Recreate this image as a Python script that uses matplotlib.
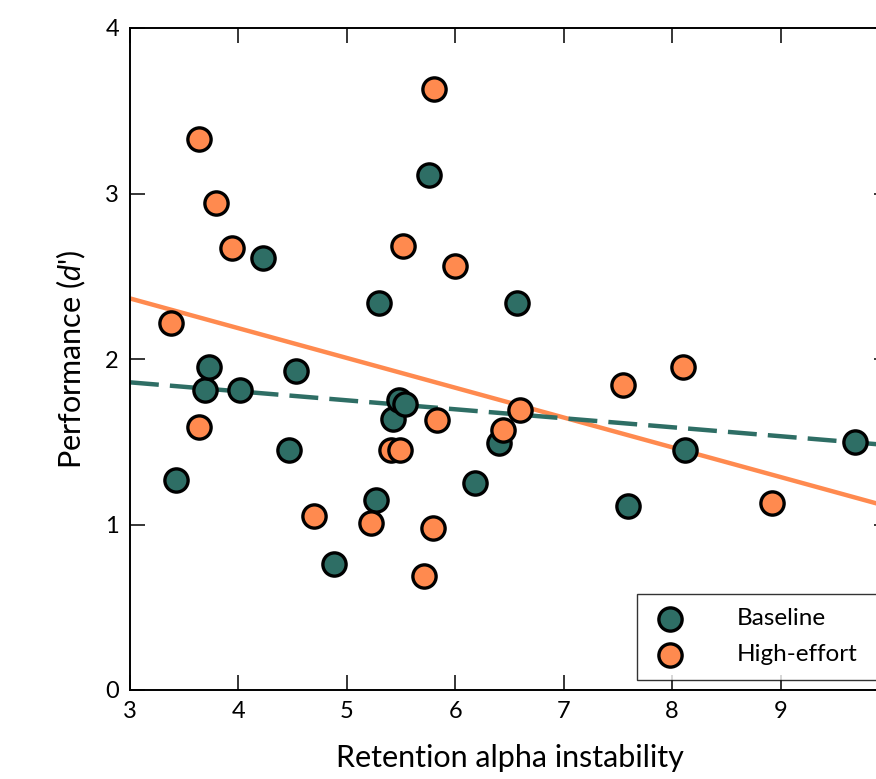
import numpy as np
import matplotlib
matplotlib.use("Agg")
import matplotlib.pyplot as plt

plt.rcParams['font.family'] = ['Lato', 'DejaVu Sans']
plt.rcParams['mathtext.fontset'] = 'custom'
plt.rcParams['mathtext.it'] = 'Lato:italic'
plt.rcParams['mathtext.rm'] = 'Lato'

# Data
baseline_x = [3.42, 3.69, 3.73, 4.01, 4.23, 4.47, 4.53, 4.88, 5.27, 5.30,
              5.43, 5.48, 5.54, 5.76, 6.18, 6.40, 6.57, 7.59, 8.12, 9.69]
baseline_y = [1.27, 1.81, 1.95, 1.81, 2.61, 1.45, 1.93, 0.76, 1.15, 2.34,
              1.64, 1.75, 1.73, 3.11, 1.25, 1.49, 2.34, 1.11, 1.45, 1.50]
effort_x = [3.38, 3.64, 3.64, 3.79, 3.94, 4.70, 5.22, 5.41, 5.49, 5.52,
            5.71, 5.79, 5.80, 5.83, 6.00, 6.44, 6.60, 7.55, 8.10, 8.92]
effort_y = [2.22, 3.33, 1.59, 2.94, 2.67, 1.05, 1.01, 1.45, 1.45, 2.68,
            0.69, 0.98, 3.63, 1.63, 2.56, 1.57, 1.69, 1.84, 1.95, 1.13]
labels = ["Baseline", "High-effort"]
x_ticks = [3, 4, 5, 6, 7, 8, 9]
y_ticks = [0, 1, 2, 3, 4]

teal = '#2e6e65'
orange = '#ff8a4f'

fig = plt.figure(figsize=(8.76, 7.79), dpi=100)
ax = fig.add_axes([130/876, 89/779, (889-130)/876, (751-89)/779])
ax.set_xlim(3, 10)
ax.set_ylim(0, 4)

xx = np.array([3, 10])
b_fit = np.polyfit(baseline_x, baseline_y, 1)
e_fit = np.polyfit(effort_x, effort_y, 1)
ax.plot(xx, np.polyval(e_fit, xx), color=orange, lw=3.2, zorder=2, solid_capstyle='butt')
ax.plot(xx, np.polyval(b_fit, xx), color=teal, lw=3.2, zorder=2, dashes=(6.5, 2.5))

ax.scatter(baseline_x, baseline_y, s=280, c=teal, edgecolors='black', linewidths=2.4,
           zorder=3, label=labels[0])
ax.scatter(effort_x, effort_y, s=280, c=orange, edgecolors='black', linewidths=2.4,
           zorder=3, label=labels[1])

ax.set_xticks(x_ticks)
ax.set_yticks(y_ticks)
ax.tick_params(direction='in', length=11, width=1.1, labelsize=17, top=True, right=True, pad=8)
for sp in ax.spines.values():
    sp.set_linewidth(1.4)

ax.set_xlabel('Retention alpha instability', fontsize=22, labelpad=16)
ax.set_ylabel(r"Performance ($d$')", fontsize=22, labelpad=12)

leg = ax.legend(loc='lower left', bbox_to_anchor=(637/876, 99/779, 300/876, 90/779),
                bbox_transform=fig.transFigure, mode='expand',
                fontsize=17.5, frameon=True, fancybox=False, edgecolor='black',
                borderpad=0.6, handlelength=1.5, handletextpad=2.0, labelspacing=0.62,
                borderaxespad=0.0)
leg.get_frame().set_linewidth(1.0)

fig.savefig('out.png', dpi=100)
